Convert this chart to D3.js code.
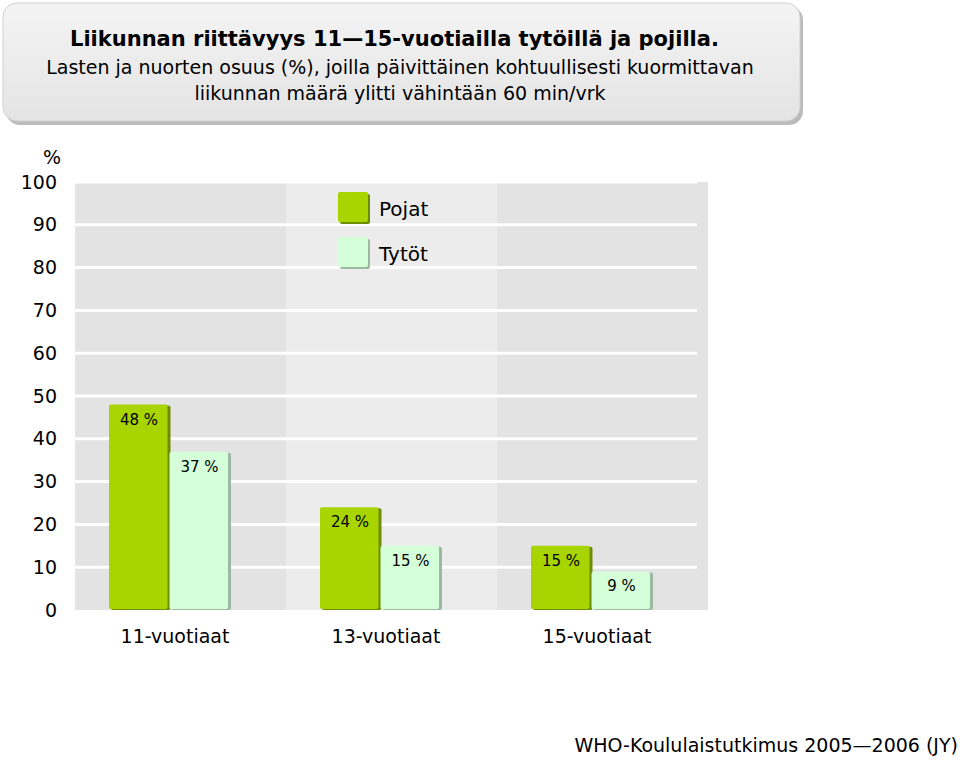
<!DOCTYPE html>
<html><head><meta charset="utf-8">
<script src="https://cdn.jsdelivr.net/npm/d3@7"></script>
<style>body{margin:0;background:#fff}text{font-family:"DejaVu Sans",sans-serif}</style>
</head><body>
<svg id="chart" width="960" height="760"></svg>
<script>
const groups = ['11-vuotiaat', '13-vuotiaat', '15-vuotiaat']
const series = ['Pojat', 'Tytöt']
const pojat = [48, 24, 15]
const tytot = [37, 15, 9]
const yTicks = [0, 10, 20, 30, 40, 50, 60, 70, 80, 90, 100]
const colors = { Pojat: '#a8d400', Tytöt: '#d4ffd8' }
const shades = { Pojat: '#6e8c00', Tytöt: '#9fb8a2' }

const svg = d3.select('#chart')
const defs = svg.append('defs')
const g1 = defs.append('linearGradient').attr('id', 'hdr').attr('x1', 0).attr('x2', 0).attr('y1', 0).attr('y2', 1)
g1.append('stop').attr('offset', 0).attr('stop-color', '#f4f4f4')
g1.append('stop').attr('offset', 1).attr('stop-color', '#e4e4e4')

// header box
svg.append('rect').attr('x', 6).attr('y', 6).attr('width', 797).attr('height', 119).attr('rx', 14).attr('fill', '#bbb')
svg.append('rect').attr('x', 3).attr('y', 3).attr('width', 797).attr('height', 118).attr('rx', 14)
  .attr('fill', 'url(#hdr)').attr('stroke', '#d0d0d0')
svg.append('text').attr('x', 70).attr('y', 46).attr('font-size', 21).attr('font-weight', 'bold')
  .text('Liikunnan riittävyys 11—15-vuotiailla tytöillä ja pojilla.')
svg.append('text').attr('x', 400).attr('y', 74).attr('text-anchor', 'middle').attr('font-size', 19)
  .text('Lasten ja nuorten osuus (%), joilla päivittäinen kohtuullisesti kuormittavan')
svg.append('text').attr('x', 400).attr('y', 100).attr('text-anchor', 'middle').attr('font-size', 19)
  .text('liikunnan määrä ylitti vähintään 60 min/vrk')

const m = { left: 75, right: 708, top: 182, bottom: 610 }
const x = d3.scaleBand().domain(groups).range([m.left, m.right])
const y = d3.scaleLinear().domain([0, 100]).range([m.bottom, m.top])
const xs = d3.scaleBand().domain(series).range([0, 121])

const plot = svg.append('g')
groups.forEach((g, i) => {
  plot.append('rect').attr('x', x(g)).attr('y', m.top).attr('width', x.bandwidth()).attr('height', m.bottom - m.top)
    .attr('fill', i % 2 ? '#ececec' : '#e3e3e3')
})
plot.selectAll('line.grid').data(yTicks.filter(d => d > 0)).join('line')
  .attr('x1', m.left - 2).attr('x2', 697).attr('y1', d => y(d)).attr('y2', d => y(d))
  .attr('stroke', '#fff').attr('stroke-width', 3)

const yAxis = d3.axisLeft(y).tickValues(yTicks).tickSize(0).tickPadding(0)
const ya = svg.append('g').attr('transform', 'translate(57,0)').call(yAxis)
ya.select('.domain').remove()
ya.selectAll('text').attr('font-size', 19).attr('fill', '#000').attr('font-family', 'DejaVu Sans')
svg.append('text').attr('x', 52).attr('y', 164).attr('text-anchor', 'middle').attr('font-size', 19).text('%')

const data = groups.flatMap((g, i) => [
  { g, s: 'Pojat', v: pojat[i] }, { g, s: 'Tytöt', v: tytot[i] }])
const bars = svg.append('g').selectAll('g').data(data).join('g')
bars.append('rect').attr('x', d => x(d.g) + 36 + xs(d.s)).attr('y', d => y(d.v) + 1)
  .attr('width', xs.bandwidth() - 1).attr('height', d => m.bottom - y(d.v) - 1)
  .attr('fill', d => shades[d.s]).attr('rx', 2)
bars.append('rect').attr('x', d => x(d.g) + 34 + xs(d.s)).attr('y', d => y(d.v))
  .attr('width', xs.bandwidth() - 2).attr('height', d => m.bottom - y(d.v) - 1)
  .attr('fill', d => colors[d.s]).attr('rx', 2)
bars.append('text').attr('x', d => x(d.g) + 64 + xs(d.s)).attr('y', d => y(d.v) + 20)
  .attr('text-anchor', 'middle').attr('font-size', 15).text(d => d.v + ' %')

svg.append('g').selectAll('text').data(groups).join('text')
  .attr('x', d => x(d) + 100).attr('y', 643).attr('text-anchor', 'middle').attr('font-size', 19).text(d => d)

const leg = svg.append('g').selectAll('g').data(series).join('g')
  .attr('transform', (d, i) => `translate(338,${192 + i * 45})`)
leg.append('rect').attr('x', 2).attr('y', 2).attr('width', 30).attr('height', 30).attr('rx', 2)
  .attr('fill', d => shades[d])
leg.append('rect').attr('width', 30).attr('height', 30).attr('rx', 2).attr('fill', d => colors[d])
leg.append('text').attr('x', 41).attr('y', 24).attr('font-size', 20).text(d => d)

svg.append('text').attr('x', 958).attr('y', 752).attr('text-anchor', 'end').attr('font-size', 19)
  .text('WHO-Koululaistutkimus 2005—2006 (JY)')
</script>
</body></html>
